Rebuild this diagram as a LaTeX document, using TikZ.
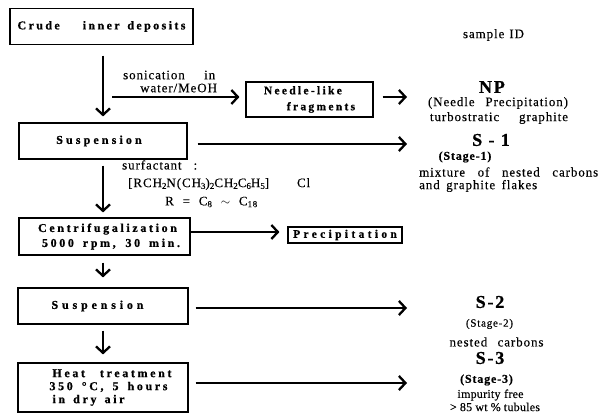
\documentclass[tikz,border=0pt]{standalone}
\usepackage{fontspec}
\setmainfont{Liberation Serif}
\newfontfamily\rf[LetterSpace=7,FakeBold=0.25]{Liberation Serif}
\newfontfamily\boxfont[FakeBold=0.8]{Liberation Serif}
\usetikzlibrary{arrows.meta}
\newcommand\lo[1]{\raisebox{-0.3ex}{\fontsize{9}{9}\selectfont #1}}
\newcommand\spr[2]{\makebox[#1pt][s]{#2}}
\newcommand\bfs[2]{\boxfont\bfseries\fontsize{#1}{#1}\selectfont\addfontfeature{LetterSpace=#2}}
\begin{document}
\begin{tikzpicture}[x=1pt,y=-1pt,
  box/.style={draw, line width=1.1pt, inner sep=0pt},
  arr/.style={line width=2.3pt, -{Straight Barb[length=6.5pt,width=14pt]}},
  lbl/.style={inner sep=0pt, font=\rf\fontsize{13}{14}\selectfont},
  lbls/.style={inner sep=0pt, font=\rf\fontsize{12}{13}\selectfont\addfontfeature{LetterSpace=2}},
  lblb/.style={inner sep=0pt, font=\rf\bfseries\fontsize{12}{13}\selectfont},
  big/.style={inner sep=0pt, font=\boxfont\bfseries\fontsize{18}{20}\selectfont\addfontfeature{LetterSpace=10}}]
\useasboundingbox (0,0) rectangle (603,419);
\coordinate (spine) at (103,0);
\coordinate (outx) at (407,0);
% boxes
\node[box, minimum width=183pt, minimum height=36pt, font=\bfs{12}{20}] (crude) at (101.5,26.5) {\spr{168}{Crude\ \ \ inner deposits}};
\node[box, minimum width=127pt, minimum height=35pt, align=left, font={\bfs{11.5}{20}\baselineskip=16pt}] (needle) at (309.5,99.5) {Needle-like\\\hspace*{23pt}fragments};
\node[box, minimum width=168pt, minimum height=36pt, font=\bfs{12}{26}] (susp1) at (103,141) {Suspension\hspace*{8pt}};
\node[box, minimum width=171pt, minimum height=37pt, align=center, font={\bfs{12}{22}\baselineskip=15pt}] (centr) at (104.5,236.5) {\hspace*{6pt}Centrifugalization\\\hspace*{13pt}\spr{138}{5000 rpm, 30 min.}};
\node[box, minimum width=114pt, minimum height=16pt, font=\bfs{11.5}{29}] (prec) at (345,235) {Precipitation};
\node[box, minimum width=170pt, minimum height=36pt, font=\bfs{12}{32}] (susp2) at (103,306) {Suspension\hspace*{11pt}};
\node[box, minimum width=170pt, minimum height=49pt, align=left, font={\bfs{12}{22}\baselineskip=13pt}] (heat) at (103,387.5) {\hspace*{18pt}\spr{119}{Heat treatment}\\\hspace*{15pt}\spr{118}{350 °C, 5 hours}\\\hspace*{18pt}\spr{72}{in dry air}};
% arrows
\draw[arr, shorten <=10.5pt, shorten >=6pt] (crude.south -| spine) -- (susp1.north -| spine);
\coordinate (n1) at ([yshift=2.5pt]needle.west);
\draw[arr, shorten <=9pt, shorten >=6pt] (spine |- n1) -- (n1);
\draw[arr, shorten <=9pt] (n1 -| needle.east) -- (n1 -| outx);
\coordinate (s1) at ([yshift=-3pt]susp1.east);
\draw[arr, shorten <=10pt] (s1) -- (s1 -| outx);
\draw[arr, shorten <=6pt, shorten >=5pt] (susp1.south -| spine) -- (centr.north -| spine);
\coordinate (p1) at ([yshift=3pt]prec.west);
\draw[arr, shorten >=8pt] (p1 -| centr.east) -- (p1);
\draw[arr, shorten <=7pt, shorten >=10pt] (centr.south -| spine) -- (susp2.north -| spine);
\coordinate (s2) at ([yshift=-2pt]susp2.east);
\draw[arr, shorten <=7pt] (s2) -- (s2 -| outx);
\draw[arr, shorten <=6pt, shorten >=8pt] (susp2.south -| spine) -- (heat.north -| spine);
\coordinate (h1) at ([yshift=4.5pt]heat.east);
\draw[arr, shorten <=7pt] (h1) -- (h1 -| outx);
% side labels
\node[lbl, anchor=west] (son1) at (123,75) {\spr{92}{sonication in}};
\node[lbl, anchor=west] (son2) at (140,88) {water/MeOH};
\node[lbl, anchor=west] (sur1) at (122,165) {\spr{75}{surfactant :}};
\node[lbl, anchor=west] (sur2) at (128,184) {\spr{182}{[RCH\lo{2}N(CH\lo{3})\lo{2}CH\lo{2}C\lo{6}H\lo{5}] Cl}};
\node[lbl, anchor=west] (sur3) at (165,202) {\spr{92}{R = C\lo{8} $\sim$ C\lo{18}}};
% sample IDs
\node[lbl] (sid) at (493.5,35) {\spr{61}{sample ID}};
\node[big] (np) at (492,87) {NP};
\node[lbl] (npa) at (498,103) {\spr{140}{(Needle Precipitation)}};
\node[lbl] (npb) at (499,118) {\spr{138}{turbostratic graphite}};
\node[big] (s1l) at (491,140) {S - 1};
\node[lblb] (s1a) at (465,157) {(Stage-1)};
\node[lbl, anchor=west] (s1b) at (419,172) {\spr{179}{mixture of nested carbons}};
\node[lbl, anchor=west] (s1c) at (419,186) {\spr{118}{and graphite flakes}};
\node[big] (s2l) at (490,302) {S-2};
\node[lbl, font=\rf\fontsize{11}{12}\selectfont] (s2a) at (489.5,324) {(Stage-2)};
\node[lbl] (s2b) at (496.5,342) {\spr{94}{nested carbons}};
\node[big] (s3l) at (490,358) {S-3};
\node[lblb] (s3a) at (486.5,380) {(Stage-3)};
\node[lbls] (s3b) at (490.5,395) {\spr{66}{impurity free}};
\node[lbls] (s3c) at (495,407) {\spr{90}{> 85 wt \% tubules}};
\end{tikzpicture}
\end{document}
